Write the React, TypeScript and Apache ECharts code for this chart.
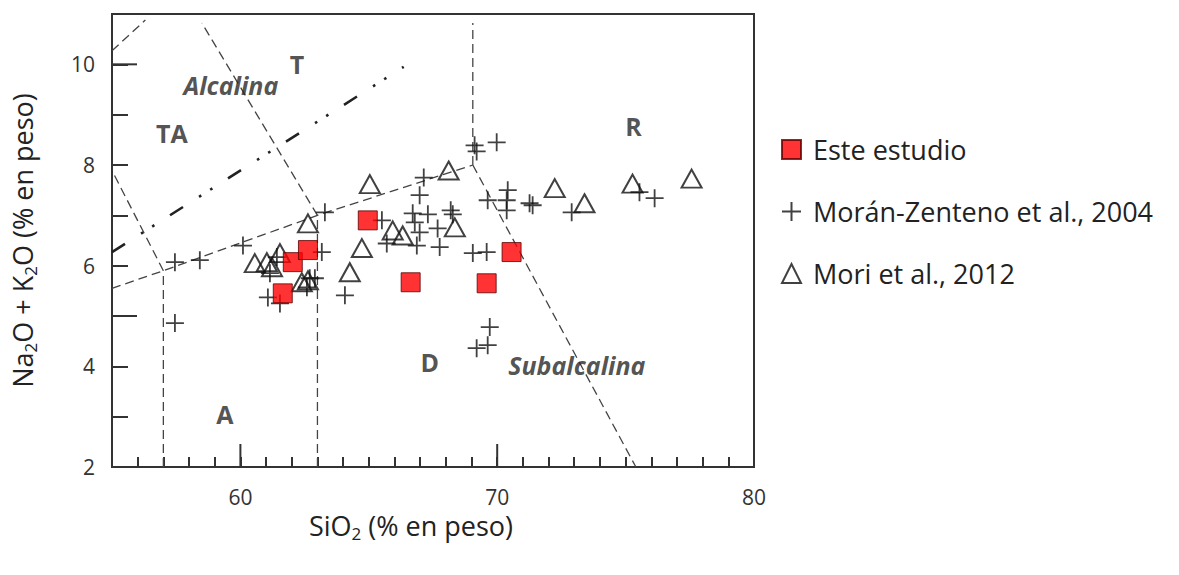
import React, { useEffect, useRef } from 'react';
import * as echarts from 'echarts';

// ---- data (SiO2, Na2O+K2O) ----
const esteEstudio: [number, number][] = [
  [61.65, 5.45], [62.04, 6.07], [62.63, 6.31], [64.96, 6.9],
  [66.63, 5.67], [69.59, 5.65], [70.56, 6.27],
];

const moranZenteno: [number, number][] = [
  [57.45, 6.07], [58.42, 6.11], [60.1, 6.4], [57.45, 4.86], [61.07, 5.37],
  [61.54, 5.25], [61.15, 5.85], [61.42, 6.17], [62.59, 5.57], [62.7, 5.75],
  [62.9, 5.75], [63.17, 6.27], [64.07, 5.41], [63.29, 7.06], [65.51, 6.9],
  [65.7, 6.44], [66.71, 7.04], [67.3, 7.02], [66.79, 6.86], [66.98, 6.66],
  [66.87, 6.4], [67.68, 6.74], [67.76, 6.37], [67.14, 7.75], [66.98, 7.4],
  [68.19, 7.1], [68.27, 7.02], [69.12, 8.39], [69.2, 8.27], [69.98, 8.45],
  [69.63, 7.3], [70.41, 7.5], [70.37, 7.1], [70.37, 7.3], [71.26, 7.24],
  [71.38, 7.2], [72.9, 7.06], [75.54, 7.46], [76.13, 7.34], [69.05, 6.25],
  [69.59, 6.27], [69.71, 4.78], [69.2, 4.36], [69.63, 4.42],
];

const mori2012: [number, number][] = [
  [65.04, 7.62], [68.11, 7.89], [62.63, 6.84], [60.56, 6.05], [61.03, 6.07],
  [61.23, 5.97], [61.54, 6.25], [62.39, 5.67], [62.63, 5.71], [64.26, 5.87],
  [64.73, 6.35], [65.93, 6.7], [66.32, 6.6], [68.35, 6.76], [72.24, 7.54],
  [73.4, 7.24], [75.27, 7.63], [77.57, 7.73],
];

// classification field boundaries
const boundaryLines: [number, number][][] = [
  [[57, 2], [57, 5.9]],
  [[63, 2], [63, 7]],
  [[55, 5.55], [57, 5.9], [63, 7], [69.05, 8]],
  [[69.05, 8], [69.05, 10.82]],
  [[69.05, 8], [75.4, 2]],
  [[63, 7], [58.5, 10.82]],
  [[57, 5.9], [55, 7.89]],
  [[55, 10.27], [56.3, 10.88]],
];
const alkalineLine: [number, number][] = [[55, 6.27], [66.36, 9.95]];

const regionNames = ['T', 'Alcalina', 'TA', 'R', 'D', 'Subalcalina', 'A'];
const regionX = [62.2, 59.63, 57.33, 75.31, 67.37, 73.1, 59.4];
const regionY = [10.0, 9.58, 8.63, 8.77, 4.08, 4.02, 3.05];
const italicRegions = ['Alcalina', 'Subalcalina'];

const xMin = 55, xMax = 80, yMin = 2, yMax = 11;
const xLabelTicks = [60, 70, 80];
const yLabelTicks = [2, 4, 6, 8, 10];
const xMajorTicks = [60, 70];
const yMajorTicks = [5, 10];

const seriesNames = ['Este estudio', 'Morán-Zenteno et al., 2004', 'Mori et al., 2012'];

const FONT = '"Open Sans", "Noto Sans", sans-serif';
const PLUS = 'path://M0,8 L16,8 M8,0 L8,16';

export default function App() {
  const ref = useRef<HTMLDivElement>(null);
  useEffect(() => {
    if (!ref.current) return;
    const chart = echarts.init(ref.current, null, { renderer: 'svg' });
    const dashed = { color: '#444', width: 1.3, type: [9, 5] as number[] };
    const option: any = {
      animation: false,
      textStyle: { fontFamily: FONT },
      grid: {
        left: 112, right: 425, top: 14, bottom: 108,
        show: true, borderColor: '#333', borderWidth: 2,
      },
      legend: {
        data: seriesNames,
        orient: 'vertical',
        left: 781, top: 136, padding: 0,
        itemWidth: 19, itemHeight: 19, itemGap: 35,
        textStyle: { fontSize: 27, color: '#222', fontFamily: FONT, padding: [0, 0, 0, 7] },
        selectedMode: false,
      },
      xAxis: {
        type: 'value', min: xMin, max: xMax, interval: 1,
        axisLine: { lineStyle: { color: '#333', width: 2 } },
        axisTick: { inside: true, length: 10, lineStyle: { color: '#333', width: 2 } },
        splitLine: { show: false },
        axisLabel: {
          fontSize: 21, color: '#333', margin: 20, fontFamily: FONT, lineHeight: 20,
          formatter: (v: number) => (xLabelTicks.includes(v) ? String(v) : ''),
        },
        name: 'SiO{s|2} (% en peso)',
        nameLocation: 'middle', nameGap: 36,
        nameTextStyle: {
          fontSize: 27, color: '#222', fontFamily: FONT, padding: [0, 44, 0, 0],
          rich: { s: { fontSize: 17, color: '#222', fontFamily: FONT, padding: [16, 0, 0, 0] } },
        },
      },
      yAxis: {
        type: 'value', min: yMin, max: yMax, interval: 1,
        axisLine: { lineStyle: { color: '#333', width: 2 } },
        axisTick: { inside: true, length: 16, lineStyle: { color: '#333', width: 2 } },
        splitLine: { show: false },
        axisLabel: {
          fontSize: 21, color: '#333', margin: 17, fontFamily: FONT, padding: [8, 0, 0, 0],
          formatter: (v: number) => (yLabelTicks.includes(v) ? String(v) : ''),
        },
        name: 'Na{s|2}O + K{s|2}O (% en peso)',
        nameLocation: 'middle', nameGap: 73, nameRotate: 90,
        nameTextStyle: {
          fontSize: 27, color: '#222', fontFamily: FONT,
          rich: { s: { fontSize: 17, color: '#222', fontFamily: FONT, padding: [16, 0, 0, 0] } },
        },
      },
      series: [
        ...boundaryLines.map((pts) => ({
          type: 'line', data: pts, symbol: 'none', silent: true, z: 1,
          lineStyle: dashed,
        })),
        {
          type: 'line', data: alkalineLine, symbol: 'none', silent: true, z: 1,
          lineStyle: { color: '#222', width: 2.6, type: [15.4, 19, 2.6, 10.6, 2.6, 18.5] },
        },
        {
          type: 'custom', silent: true, z: 3,
          data: xMajorTicks.map((v) => [v, yMin]),
          renderItem: (_p: any, api: any) => {
            const c = api.coord([api.value(0), api.value(1)]);
            return { type: 'line', shape: { x1: c[0], y1: c[1], x2: c[0], y2: c[1] - 23 }, style: { stroke: '#333', lineWidth: 2 } };
          },
        },
        {
          type: 'custom', silent: true, z: 3,
          data: yMajorTicks.map((v) => [xMin, v]),
          renderItem: (_p: any, api: any) => {
            const c = api.coord([api.value(0), api.value(1)]);
            return { type: 'line', shape: { x1: c[0], y1: c[1], x2: c[0] + 25, y2: c[1] }, style: { stroke: '#333', lineWidth: 2 } };
          },
        },
        {
          type: 'scatter', silent: true, z: 2, symbol: 'circle', symbolSize: 1,
          itemStyle: { color: 'rgba(0,0,0,0)' },
          data: regionNames.map((n, i) => ({
            name: n, value: [regionX[i], regionY[i]],
            label: { fontStyle: italicRegions.includes(n) ? 'italic' : 'normal' },
          })),
          label: {
            show: true, position: 'inside', formatter: '{b}',
            fontSize: 25, fontWeight: 'bold', color: '#262626', fontFamily: FONT,
          },
        },
        {
          name: seriesNames[1], type: 'scatter', symbol: PLUS, symbolSize: 18, z: 5,
          data: moranZenteno,
          itemStyle: { color: 'rgba(0,0,0,0)', borderColor: '#111', borderWidth: 1.8 },
        },
        {
          name: seriesNames[2], type: 'scatter', symbol: 'triangle', symbolSize: [20, 18], z: 6,
          data: mori2012,
          itemStyle: { color: 'rgba(0,0,0,0)', borderColor: '#111', borderWidth: 2 },
        },
        {
          name: seriesNames[0], type: 'scatter', symbol: 'rect', symbolSize: 19, z: 7,
          data: esteEstudio,
          itemStyle: { color: '#ff0000', borderColor: '#5a0000', borderWidth: 1 },
        },
      ],
    };
    chart.setOption(option);
    return () => chart.dispose();
  }, []);
  return <div ref={ref} style={{ width: 1179, height: 575, position: 'absolute', left: 0, top: 0 }} />;
}
